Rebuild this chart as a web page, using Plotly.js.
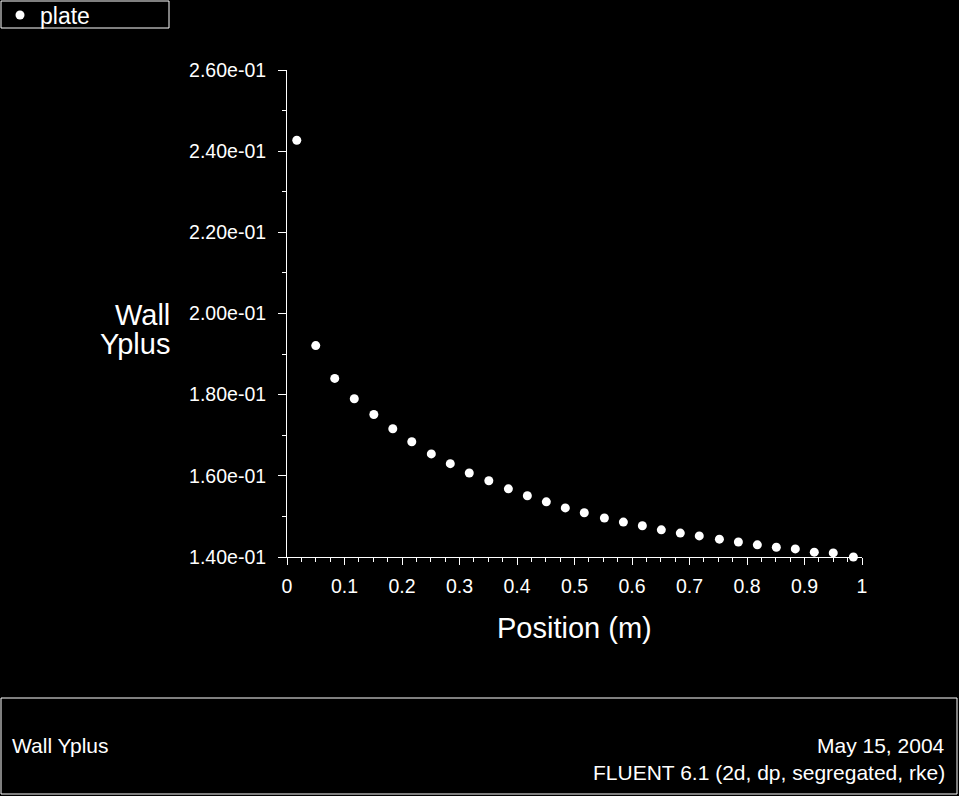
<!DOCTYPE html>
<html>
<head>
<meta charset="utf-8">
<script src="https://cdn.plot.ly/plotly-3.0.1.min.js"></script>
<style>
  html, body { margin: 0; padding: 0; background: #000; }
  #chart { width: 959px; height: 796px; }
</style>
</head>
<body>
<div id="chart"></div>
<script>
// wall yplus along the plate
var position = [0.017, 0.050, 0.083, 0.117, 0.151, 0.184, 0.217, 0.251, 0.284, 0.317,
                0.351, 0.385, 0.418, 0.451, 0.484, 0.517, 0.552, 0.585, 0.618, 0.651,
                0.684, 0.717, 0.752, 0.785, 0.818, 0.851, 0.884, 0.917, 0.950, 0.985];
var yplus = [0.2427, 0.1921, 0.1840, 0.1790, 0.1751, 0.1716, 0.1684, 0.1654, 0.1630, 0.1607,
             0.1588, 0.1568, 0.1551, 0.1536, 0.1521, 0.1509, 0.1496, 0.1486, 0.1477, 0.1467,
             0.1459, 0.1452, 0.1444, 0.1437, 0.1430, 0.1424, 0.1420, 0.1412, 0.1410, 0.1400];

var yTickVals = [0.14, 0.16, 0.18, 0.20, 0.22, 0.24, 0.26];
var yTickText = ["1.40e-01", "1.60e-01", "1.80e-01", "2.00e-01", "2.20e-01", "2.40e-01", "2.60e-01"];
var xTickVals = [0, 0.1, 0.2, 0.3, 0.4, 0.5, 0.6, 0.7, 0.8, 0.9, 1];
var xTickText = ["0", "0.1", "0.2", "0.3", "0.4", "0.5", "0.6", "0.7", "0.8", "0.9", "1"];

// plot area in pixels
var L = 287, R = 862, T = 70, B = 557;
function px2x(px){ return (px - L) / (R - L); }
function px2y(py){ return (B - py) / (B - T); }

var font = "Liberation Sans, Arial, sans-serif";

function label(text, px, py, anchor, size){
    return {text: text, xref: "paper", yref: "paper",
            x: px2x(px), y: px2y(py), xanchor: anchor, yanchor: "middle",
            showarrow: false, font: {family: font, size: size, color: "#FFFFFF"}};
}

var trace1 = {
    type: "scatter",
    mode: "markers",
    name: "plate",
    x: position,
    y: yplus,
    marker: {color: "#FFFFFF", size: 9},
    cliponaxis: false
};

var layout = {
    width: 959,
    height: 796,
    autosize: false,
    paper_bgcolor: "#000000",
    plot_bgcolor: "#000000",
    margin: {l: L, r: 959 - R, t: T, b: 796 - B, pad: 0, autoexpand: false},
    font: {family: font, color: "#FFFFFF", size: 19},
    showlegend: true,
    legend: {
        x: px2x(0), y: px2y(15), xanchor: "left", yanchor: "middle",
        bgcolor: "rgba(0,0,0,0)", borderwidth: 0,
        font: {family: font, size: 23, color: "#FFFFFF"}
    },
    xaxis: {
        range: [0, 1],
        showgrid: false, zeroline: false,
        showline: true, linecolor: "#FFFFFF", linewidth: 1,
        ticks: "outside", ticklen: 7, tickcolor: "#FFFFFF", tickwidth: 1,
        ticklabelstandoff: 5,
        tickvals: xTickVals, ticktext: xTickText,
        tickfont: {family: font, size: 19.5, color: "#FFFFFF"},
        minor: {dtick: 0.025, ticks: "outside", ticklen: 4, tickcolor: "#FFFFFF", showgrid: false}
    },
    yaxis: {
        range: [0.14, 0.26],
        showgrid: false, zeroline: false,
        showline: true, linecolor: "#FFFFFF", linewidth: 1,
        ticks: "outside", ticklen: 8, tickcolor: "#FFFFFF", tickwidth: 1,
        ticklabelstandoff: 8,
        tickvals: yTickVals, ticktext: yTickText,
        tickfont: {family: font, size: 19.5, color: "#FFFFFF"},
        minor: {dtick: 0.01, ticks: "outside", ticklen: 4, tickcolor: "#FFFFFF", showgrid: false}
    },
    shapes: [
        // legend box
        {type: "rect", xref: "paper", yref: "paper",
         x0: px2x(1), x1: px2x(169), y0: px2y(28), y1: px2y(1),
         line: {color: "#FFFFFF", width: 1}},
        // footer box
        {type: "rect", xref: "paper", yref: "paper",
         x0: px2x(1), x1: px2x(957), y0: px2y(794), y1: px2y(698),
         line: {color: "#FFFFFF", width: 1}}
    ],
    annotations: [
        label("Wall", 172, 315, "right", 29),
        label("Yplus", 172, 344, "right", 29),
        label("Position (m)", 574, 628, "center", 29),
        label("Wall Yplus", 10, 745, "left", 21),
        label("May 15, 2004", 947, 745, "right", 21),
        label("FLUENT 6.1 (2d, dp, segregated, rke)", 947, 772, "right", 21)
    ]
};

Plotly.newPlot(document.getElementById("chart"), [trace1], layout, {staticPlot: true, displayModeBar: false});
</script>
</body>
</html>
